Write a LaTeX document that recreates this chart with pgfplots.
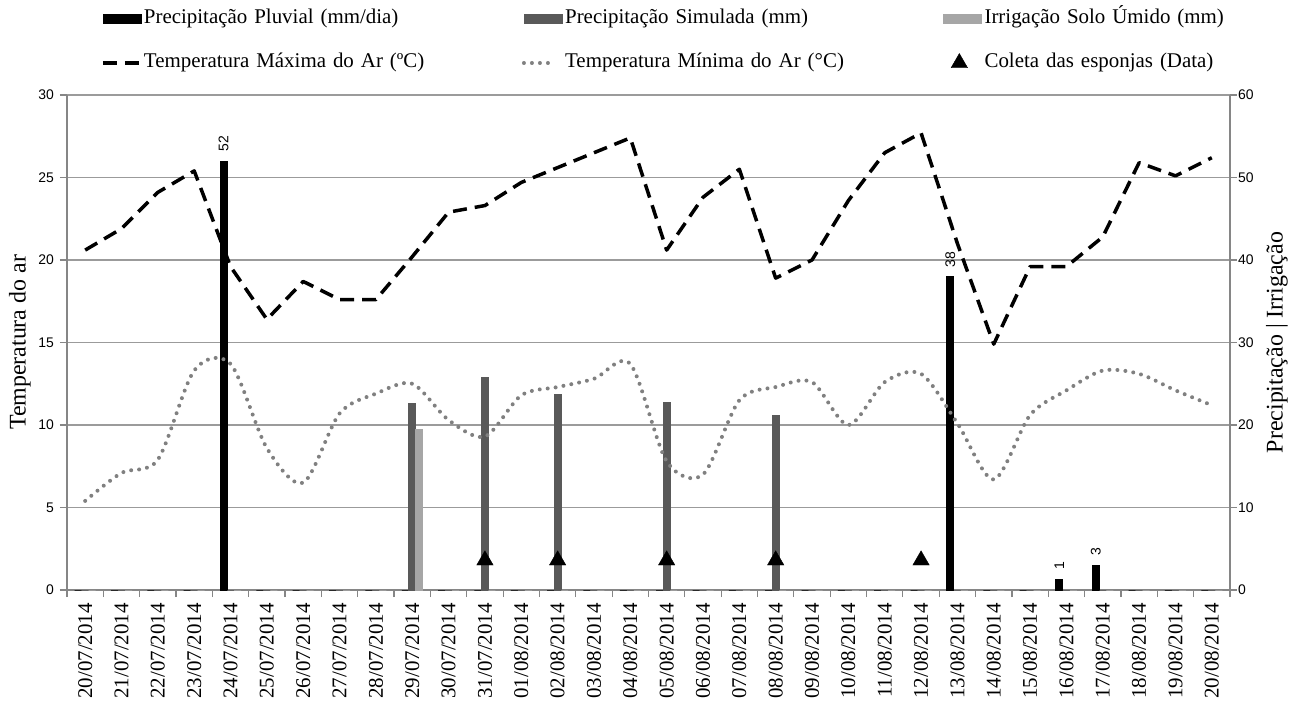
\documentclass[border=0pt]{standalone}
\usepackage{fontspec}
\setmainfont{Liberation Serif}
\newfontfamily\arialfont{Liberation Sans}
\usepackage{pgfplots}
\pgfplotsset{compat=1.18}
\usepackage{pgfplotstable}

\definecolor{axisgray}{RGB}{134,134,134}
\definecolor{gridgray}{RGB}{155,155,155}
\definecolor{simgray}{RGB}{89,89,89}
\definecolor{irrgray}{RGB}{166,166,166}
\definecolor{tmingray}{RGB}{128,128,128}

\newcommand{\tickfont}{\arialfont\fontsize{14}{16}\selectfont}
\newcommand{\datefont}{\fontsize{21}{24}\selectfont}
\newcommand{\legfont}{\fontsize{21}{24}\selectfont}
\newcommand{\labfont}{\fontsize{24}{28}\selectfont}

% precipitation / irrigation (mm), one row per day from 20/07/2014
\pgfplotstableread{
x pluv sim irr lab
0 0 0 0 {}
1 0 0 0 {}
2 0 0 0 {}
3 0 0 0 {}
4 52 0 0 52
5 0 0 0 {}
6 0 0 0 {}
7 0 0 0 {}
8 0 0 0 {}
9 0 22.6 19.4 {}
10 0 0 0 {}
11 0 25.7 0 {}
12 0 0 0 {}
13 0 23.7 0 {}
14 0 0 0 {}
15 0 0 0 {}
16 0 22.7 0 {}
17 0 0 0 {}
18 0 0 0 {}
19 0 21.2 0 {}
20 0 0 0 {}
21 0 0 0 {}
22 0 0 0 {}
23 0 0 0 {}
24 38 0 0 38
25 0 0 0 {}
26 0 0 0 {}
27 1.3 0 0 1
28 3 0 0 3
29 0 0 0 {}
30 0 0 0 {}
31 0 0 0 {}
}\precip

% air temperature (C)
\pgfplotstableread{
x tmax tmin
0 20.6 5.4
1 21.9 7.1
2 24.1 7.9
3 25.4 13.3
4 19.6 13.7
5 16.4 8.6
6 18.7 6.5
7 17.6 10.7
8 17.6 11.9
9 20.2 12.5
10 22.9 10.3
11 23.3 9.3
12 24.7 11.8
13 25.6 12.3
14 26.5 12.8
15 27.4 13.7
16 20.6 7.8
17 23.8 7.0
18 25.5 11.5
19 18.9 12.3
20 20.0 12.6
21 23.6 10.0
22 26.5 12.6
23 27.7 13.1
24 21.0 10.1
25 14.9 6.7
26 19.6 10.6
27 19.6 12.1
28 21.4 13.3
29 25.9 13.1
30 25.1 12.1
31 26.2 11.2
}\temps

\pgfplotsset{
  base/.style={
    at={(0,0)}, anchor=south west,
    scale only axis, width=1163bp, height=495bp,
    xmin=-0.5, xmax=31.5,
    tick align=outside,
    major tick length=7bp,
    axis line style={draw=axisgray, line width=1.2bp},
    y tick style={draw=axisgray, line width=1.2bp},
    yticklabel style={font=\tickfont},
    /pgf/number format/assume math mode=true,
  },
  boxleg/.style={legend image code/.code={\fill[#1] (0bp,-4.5bp) rectangle (38bp,4.5bp);}},
  lineleg/.style={legend image code/.code={\draw[##1] (0bp,0bp) -- (#1,0bp);}},
  markleg/.style={legend image code/.code={\path (0bp,0bp) (38bp,0bp); \draw[##1] plot coordinates {(16bp,0bp)};}},
}

\begin{document}
\begin{tikzpicture}
\useasboundingbox (-67bp,-111bp) rectangle (1234bp,590bp);

% right axis: bars
\begin{axis}[
    base,
    ymin=0, ymax=60,
    axis x line*=bottom, axis y line*=right,
    ytick={0,10,...,60},
    ymajorgrids,
    grid style={draw=gridgray, line width=1.2bp},
    ybar=0pt, bar width=7bp,
    xtick={0,...,31},
    xticklabels={20/07/2014,21/07/2014,22/07/2014,23/07/2014,24/07/2014,25/07/2014,26/07/2014,27/07/2014,28/07/2014,29/07/2014,30/07/2014,31/07/2014,01/08/2014,02/08/2014,03/08/2014,04/08/2014,05/08/2014,06/08/2014,07/08/2014,08/08/2014,09/08/2014,10/08/2014,11/08/2014,12/08/2014,13/08/2014,14/08/2014,15/08/2014,16/08/2014,17/08/2014,18/08/2014,19/08/2014,20/08/2014},
    xticklabel style={rotate=90, anchor=east, font=\datefont, inner sep=0pt},
    xticklabel shift=6bp,
    major x tick style={draw=none},
    minor xtick={-0.5,0.5,...,31.5},
    minor tick length=7bp,
    minor x tick style={draw=axisgray, line width=1.2bp},
    yticklabel style={anchor=west, inner sep=0pt},
    yticklabel shift=1bp,
    every axis y label/.style={at={(rel axis cs:1,0.5)}, xshift=47bp, rotate=90, anchor=center, font=\labfont},
    ylabel={Precipitação | Irrigação},
]
\addplot[fill=black, draw=black, line width=1bp,
    point meta=explicit symbolic, nodes near coords,
    nodes near coords style={rotate=90, anchor=west, font=\tickfont, text=black, inner xsep=9bp, inner ysep=0pt}]
    table[x=x, y=pluv, meta=lab] {\precip};
\addplot[fill=simgray, draw=simgray, line width=1bp] table[x=x, y=sim] {\precip};
\addplot[fill=irrgray, draw=irrgray, line width=1bp] table[x=x, y=irr] {\precip};
\end{axis}

% left axis: temperatures and sampling dates
\begin{axis}[
    base,
    ymin=0, ymax=30,
    axis y line*=left, axis x line=none,
    xtick=\empty,
    ytick={0,5,...,30},
    yticklabel style={anchor=east, inner sep=0pt},
    yticklabel shift=6bp,
    every axis y label/.style={at={(rel axis cs:0,0.5)}, xshift=-47bp, rotate=90, anchor=center, font=\labfont},
    ylabel={Temperatura do ar},
    legend columns=3,
    legend cell align=left,
    legend style={draw=none, fill=none, at={(rel axis cs:0,1)}, anchor=south west,
        xshift=34bp, yshift=22bp, inner sep=0pt, outer sep=0pt, row sep=24bp,
        font=\legfont,
        nodes={inner sep=0pt, text height=15bp, text depth=5bp, text width=378bp},
        /tikz/every odd column/.style={column sep=3bp},
        /tikz/every even column/.style={column sep=0pt}},
]
\addlegendimage{boxleg=black}
\addlegendentry{Precipitação Pluvial (mm/dia)}
\addlegendimage{boxleg=simgray}
\addlegendentry{Precipitação Simulada (mm)}
\addlegendimage{boxleg=irrgray}
\addlegendentry{Irrigação Solo Úmido (mm)}

\addplot[black, line width=3.5bp, dash pattern=on 14bp off 8bp, line join=round, lineleg=36bp]
    table[x=x, y=tmax] {\temps};
\addlegendentry{Temperatura Máxima do Ar (ºC)}

\addplot[tmingray, line width=4bp, line cap=round, dash pattern=on 0bp off 8bp, smooth, tension=0.5, lineleg=24bp]
    table[x=x, y=tmin] {\temps};
\addlegendentry{Temperatura Mínima do Ar (°C)}

\addplot[only marks, mark=triangle*, mark size=9.5bp, black, markleg]
    coordinates {(11,1.8) (13,1.8) (16,1.8) (19,1.8) (23,1.8)};
\addlegendentry{Coleta das esponjas (Data)}
\end{axis}
\end{tikzpicture}
\end{document}
